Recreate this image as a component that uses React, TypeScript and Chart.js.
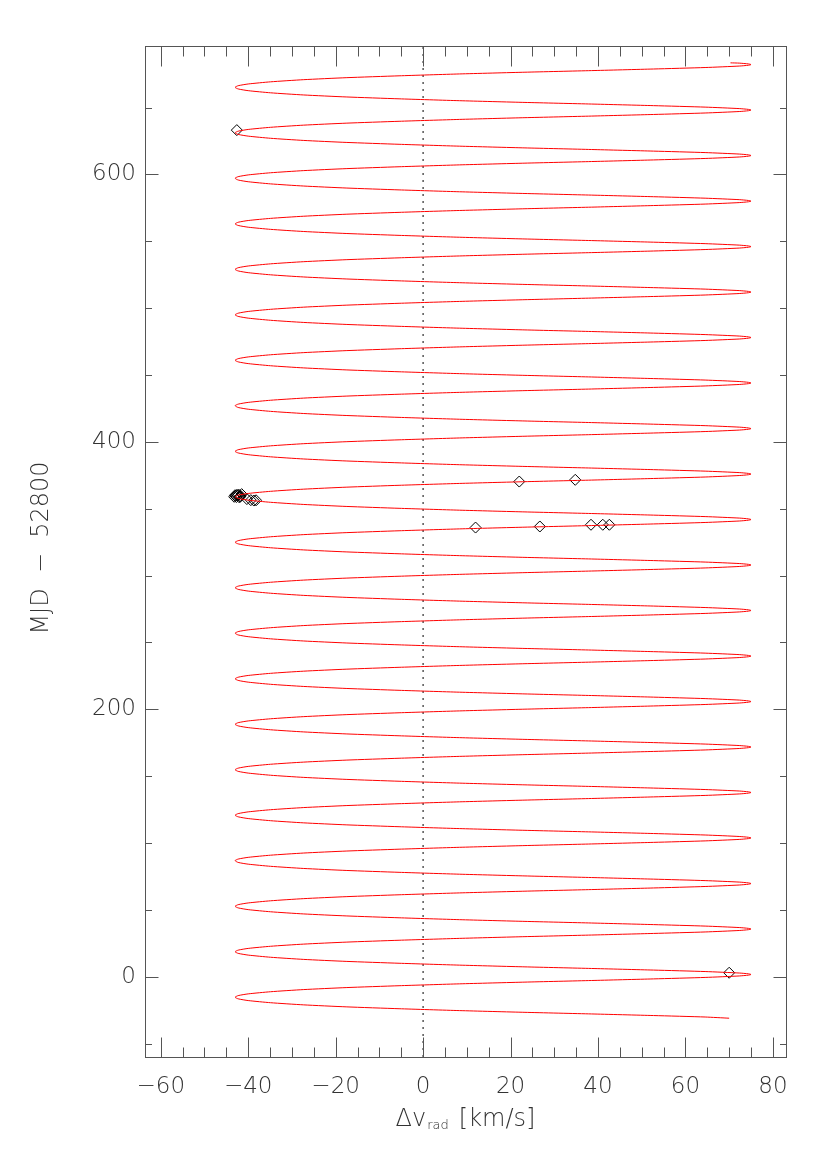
import React, { useEffect, useRef } from 'react';
import { Chart, registerables } from 'chart.js';

Chart.register(...registerables);

// ---- axis ranges and tick labels ----
const X_MIN = -63.6;
const X_MAX = 83.0;
const Y_MIN = -60;
const Y_MAX = 696;
const xMajorTicks = [-60, -40, -20, 0, 20, 40, 60, 80];
const xMinorTicks = [-55, -50, -45, -35, -30, -25, -15, -10, -5, 5, 10, 15, 25, 30, 35, 45, 50, 55, 65, 70, 75];
const yMajorTicks = [0, 200, 400, 600];
const yMinorTicks = [-50, 50, 100, 150, 250, 300, 350, 450, 500, 550, 650];

// ---- orbit model curve ----
// epochs of the velocity maxima (MJD - 52800)
const peakTimes = [-32.3, 1.7, 35.7, 69.7, 103.8, 137.8, 171.8, 205.8, 239.8, 273.9, 307.9,
  341.9, 375.9, 409.9, 444.0, 478.0, 512.0, 546.0, 580.0, 614.1, 648.1, 682.1];
// one cycle of the curve: days relative to a maximum, and velocity (km/s)
const cycleOffsets = [-17.0, -15.8, -14.5, -12.9, -11.3, -9.8, -8.4, -7.0, -5.7, -4.5, -3.3, -2.2, -1.1, -0.5,
  0, 0.5, 1.1, 2.2, 3.3, 4.5, 5.7, 7.0, 8.4, 9.8, 11.3, 12.9, 14.5, 15.8];
const cycleVelocities = [-43.0, -42.3, -40.0, -34.9, -27.4, -17.6, -5.5, 8.3, 23.3, 38.5, 52.7, 64.5, 72.3, 74.4,
  75.0, 74.4, 72.3, 64.5, 52.7, 38.5, 23.3, 8.3, -5.5, -17.6, -27.4, -34.9, -40.0, -42.3];
const curveStart = { v: 70.0, t: -31.0 };
const curveEnd = { v: 70.3, t: 683.4 };

// ---- observed radial velocities (diamonds) ----
const obsVelocity = [-42.6, 70.0, 22.0, 34.8, 12.0, 26.7, 38.4, 41.1, 42.6,
  -42.9, -42.6, -42.2, -41.9, -42.7, -41.5, -40.3, -39.4, -38.7, -38.2,
  -43.2, -42.4, -41.7, -43.0, -42.0];
const obsTime = [633.1, 3.0, 370.3, 371.6, 335.9, 336.7, 338.0, 338.0, 338.0,
  359.6, 360.3, 360.6, 359.2, 358.7, 360.9, 357.2, 356.4, 356.1, 356.3,
  358.9, 359.9, 359.6, 360.1, 358.4];

const AXIS_COLOR = '#555555';
const TEXT_COLOR = '#333333';
const FONT_FAMILY = '"DejaVu Sans", sans-serif';
const FONT_WEIGHT = '200';

function buildCurve() {
  const pts: { x: number; y: number }[] = [{ x: curveStart.v, y: curveStart.t }];
  for (const p of peakTimes) {
    for (let i = 0; i < cycleOffsets.length; i++) {
      const t = p + cycleOffsets[i];
      if (t > curveStart.t && t < curveEnd.t) pts.push({ x: cycleVelocities[i], y: t });
    }
  }
  pts.push({ x: curveEnd.v, y: curveEnd.t });
  return pts;
}

const fmt = (v: number) => (v < 0 ? '\u2212' + Math.abs(v) : String(v));

const framePlugin = {
  id: 'frameTicks',
  afterDraw(chart: any) {
    const { ctx, chartArea: a, scales } = chart;
    const x = scales.x;
    const y = scales.y;
    ctx.save();
    ctx.strokeStyle = AXIS_COLOR;
    ctx.lineWidth = 1;
    ctx.setLineDash([]);
    const L = Math.round(a.left) + 0.5;
    const R = Math.round(a.right) + 0.5;
    const T = Math.round(a.top) + 0.5;
    const B = Math.round(a.bottom) + 0.5;
    ctx.strokeRect(L, T, R - L, B - T);
    ctx.beginPath();
    const xt = (vals: number[], len: number) => {
      for (const v of vals) {
        const px = Math.round(x.getPixelForValue(v)) + 0.5;
        ctx.moveTo(px, B); ctx.lineTo(px, B - len);
        ctx.moveTo(px, T); ctx.lineTo(px, T + len);
      }
    };
    const yt = (vals: number[], len: number) => {
      for (const v of vals) {
        const py = Math.round(y.getPixelForValue(v)) + 0.5;
        ctx.moveTo(L, py); ctx.lineTo(L + len, py);
        ctx.moveTo(R, py); ctx.lineTo(R - len, py);
      }
    };
    xt(xMajorTicks, 20);
    xt(xMinorTicks, 10);
    yt(yMajorTicks, 13);
    yt(yMinorTicks, 6.5);
    ctx.stroke();

    // axis titles
    ctx.fillStyle = TEXT_COLOR;
    ctx.textBaseline = 'alphabetic';
    const big = `${FONT_WEIGHT} 24px ${FONT_FAMILY}`;
    const small = `${FONT_WEIGHT} 13px ${FONT_FAMILY}`;
    // x title: Δv_rad [km/s]
    ctx.font = big;
    const p1 = '\u0394v';
    const p3 = '[km/s]';
    const w1 = ctx.measureText(p1).width;
    const w3 = ctx.measureText(p3).width;
    ctx.font = small;
    const p2 = 'rad';
    const w2 = ctx.measureText(p2).width;
    const gap = 10;
    const total = w1 + w2 + gap + w3;
    const cx = 465;
    let sx = cx - total / 2;
    const baseY = 1126;
    ctx.font = big;
    ctx.textAlign = 'left';
    ctx.fillText(p1, sx, baseY);
    sx += w1 + 1;
    ctx.font = small;
    ctx.fillText(p2, sx, baseY + 3);
    sx += w2 + gap;
    ctx.font = big;
    ctx.fillText(p3, sx, baseY);

    // y title
    ctx.save();
    ctx.translate(48, 548);
    ctx.rotate(-Math.PI / 2);
    ctx.textAlign = 'center';
    ctx.font = big;
    ctx.fillText('MJD  \u2212  52800', 0, 0);
    ctx.restore();
    ctx.restore();
  },
};

export default function App() {
  const ref = useRef<HTMLCanvasElement | null>(null);
  useEffect(() => {
    document.body.style.margin = '0';
    const canvas = ref.current!;
    const curve = buildCurve();
    const obs = obsVelocity.map((v, i) => ({ x: v, y: obsTime[i] }));
    const chart = new Chart(canvas, {
      type: 'scatter',
      data: {
        datasets: [
          {
            data: curve,
            showLine: true,
            borderColor: '#ff0000',
            borderWidth: 1,
            pointRadius: 0,
            tension: 0.2,
            fill: false,
          } as any,
          {
            data: obs,
            showLine: false,
            pointStyle: 'rectRot',
            pointRadius: 5.5,
            borderColor: '#000000',
            borderWidth: 1,
            backgroundColor: 'rgba(0,0,0,0)',
          } as any,
          {
            data: [{ x: 0, y: Y_MIN }, { x: 0, y: Y_MAX }],
            showLine: true,
            borderColor: '#000000',
            borderWidth: 1,
            borderDash: [2, 5],
            pointRadius: 0,
          } as any,
        ],
      },
      options: {
        responsive: false,
        animation: false,
        devicePixelRatio: 1,
        layout: { padding: { top: 46, right: 44, left: 0, bottom: 0 } },
        plugins: { legend: { display: false }, tooltip: { enabled: false } },
        scales: {
          x: {
            type: 'linear',
            min: X_MIN,
            max: X_MAX,
            grid: { display: false, drawTicks: false },
            border: { display: false },
            ticks: {
              autoSkip: false,
              maxRotation: 0,
              padding: 16,
              color: TEXT_COLOR,
              font: { family: FONT_FAMILY, size: 23, weight: FONT_WEIGHT },
              callback: (v: any) => fmt(Number(v)),
            },
            afterBuildTicks: (s: any) => {
              s.ticks = xMajorTicks.map((value) => ({ value }));
            },
            afterFit: (s: any) => {
              s.height = 93;
            },
          },
          y: {
            type: 'linear',
            min: Y_MIN,
            max: Y_MAX,
            grid: { display: false, drawTicks: false },
            border: { display: false },
            ticks: {
              autoSkip: false,
              padding: 9,
              color: TEXT_COLOR,
              font: { family: FONT_FAMILY, size: 23, weight: FONT_WEIGHT },
              callback: (v: any) => fmt(Number(v)),
            },
            afterBuildTicks: (s: any) => {
              s.ticks = yMajorTicks.map((value) => ({ value }));
            },
            afterFit: (s: any) => {
              s.width = 145;
            },
          },
        },
      } as any,
      plugins: [framePlugin],
    });
    return () => chart.destroy();
  }, []);
  return (
    <div style={{ width: 830, height: 1150, background: '#ffffff' }}>
      <canvas ref={ref} width={830} height={1150} style={{ display: 'block', width: 830, height: 1150 }} />
    </div>
  );
}
